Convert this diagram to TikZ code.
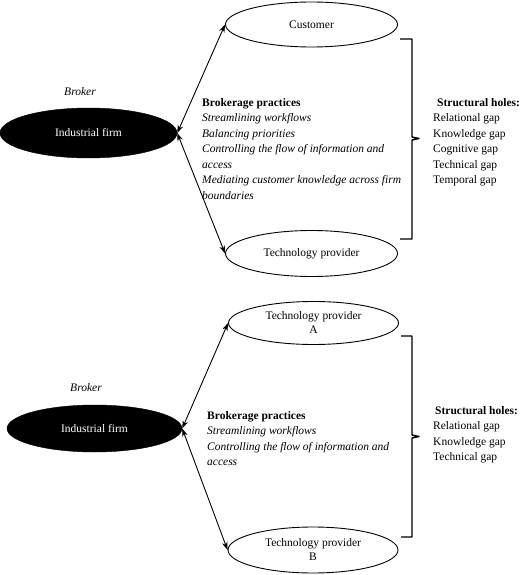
\documentclass[tikz,border=0pt]{standalone}
\usepackage{fontspec}
\setmainfont{Liberation Serif}
\usetikzlibrary{shapes.geometric,arrows.meta}
\begin{document}
\begin{tikzpicture}[x=1pt,y=-1pt,
  every node/.style={font=\fontsize{11.5}{15.5}\selectfont},
  firm/.style={ellipse, fill=black, draw=black, text=white, inner sep=0pt},
  party/.style={ellipse, draw=black, line width=0.9pt, inner sep=0pt, align=center, font=\fontsize{11.5}{14}\selectfont},
  link/.style={line width=0.9pt, {Stealth[length=8pt,width=5.5pt]}-{Stealth[length=8pt,width=5.5pt]}},
  brace/.style={line width=1.4pt, line join=round},
  txt/.style={inner sep=0pt, anchor=north west, align=left}]
\useasboundingbox (0,0) rectangle (520,575);
\fill[white] (0,0) rectangle (520,575);

% ---- top panel ----
\node[firm, minimum width=177pt, minimum height=50pt] (f1) at (88.5,133) {Industrial firm};
\node[inner sep=0pt] (b1) at (80,92) {\textit{Broker}};
\node[party, minimum width=172pt, minimum height=45pt] (cust) at (311.5,24.5) {Customer};
\node[party, minimum width=172pt, minimum height=46pt] (tp) at (311.5,253.5) {Technology provider};
\node[txt] (p1) at (202,98) {\textbf{Brokerage practices}\\
  \textit{Streamlining workflows}\\
  \textit{Balancing priorities}\\
  \textit{Controlling the flow of information and}\\
  \textit{access}\\
  \textit{Mediating customer knowledge across firm}\\
  \textit{boundaries}};
\node[txt] (s1) at (433,98) {\hspace{4pt}\textbf{Structural holes:}\\
  Relational gap\\Knowledge gap\\Cognitive gap\\Technical gap\\Temporal gap};
\draw[link] (f1.east) -- (cust.west);
\draw[link] (f1.east) -- (tp.west);
\draw[brace] (400,39) -- (412,39) -- (412,137) -- (419,138.5) -- (412,140) -- (412,239) -- (400,239);

% ---- bottom panel ----
\node[firm, minimum width=175pt, minimum height=47pt] (f2) at (94.5,428.5) {Industrial firm};
\node[inner sep=0pt] (b2) at (86,388) {\textit{Broker}};
\node[party, minimum width=170pt, minimum height=43pt] (ta) at (313.5,323) {Technology provider\\A};
\node[party, minimum width=170pt, minimum height=46pt] (tb) at (313,550) {Technology provider\\B};
\node[txt] (p2) at (207,411) {\textbf{Brokerage practices}\\
  \textit{Streamlining workflows}\\
  \textit{Controlling the flow of information and}\\
  \textit{access}};
\node[txt] (s2) at (433,406) {\hspace{2pt}\textbf{Structural holes:}\\
  Relational gap\\Knowledge gap\\Technical gap};
\draw[link] (f2.east) -- (ta.west);
\draw[link] (f2.east) -- (tb.west);
\draw[brace] (401,336) -- (412,336) -- (412,435) -- (419,436.5) -- (412,438) -- (412,537) -- (401,537);
\end{tikzpicture}
\end{document}
